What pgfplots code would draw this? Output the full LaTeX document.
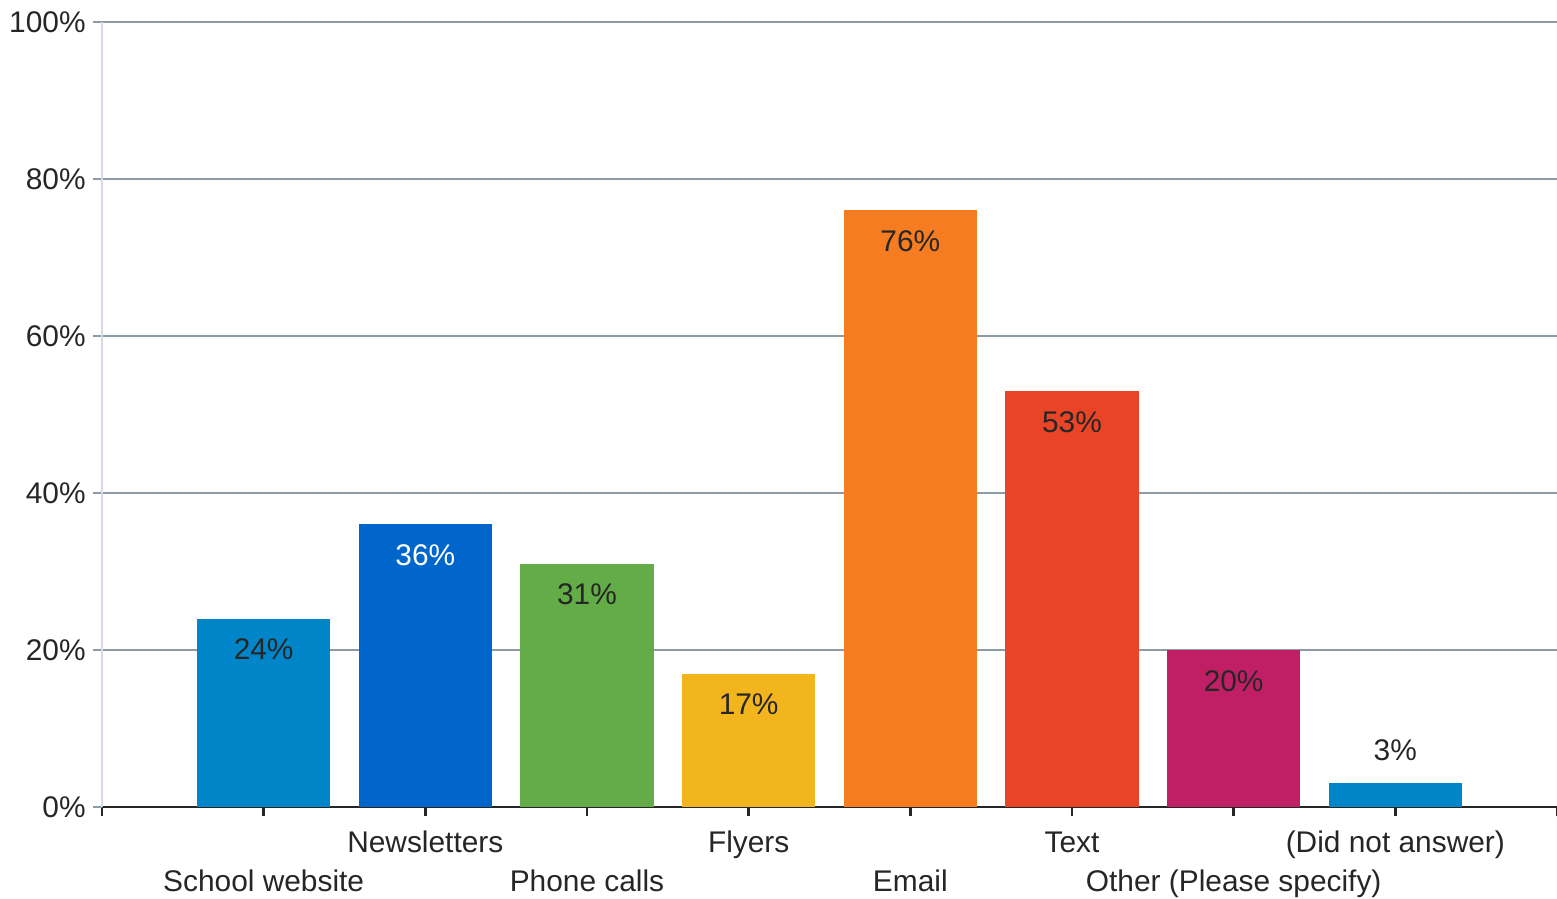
\documentclass[border=0pt]{standalone}
\usepackage{fontspec}
\setmainfont{Liberation Sans}
\usepackage{pgfplots}
\pgfplotsset{compat=1.18}

\definecolor{cWeb}{HTML}{0085C8}
\definecolor{cNews}{HTML}{0066CC}
\definecolor{cPhone}{HTML}{63AC47}
\definecolor{cFly}{HTML}{F3B51E}
\definecolor{cMail}{HTML}{F57C20}
\definecolor{cText}{HTML}{E94426}
\definecolor{cOther}{HTML}{C01F65}
\definecolor{gridc}{HTML}{8C9BA6}
\definecolor{yaxisc}{HTML}{D6DAE6}
\definecolor{txt}{HTML}{262626}

\pgfplotsset{
  inbar/.style={nodes near coords={\pgfmathprintnumber{\pgfplotspointmeta}\%},
    every node near coord/.append style={anchor=north, yshift=-0.8mm, text=#1,
      font=\fontsize{8.5}{11}\selectfont}},
}

\begin{document}
\begin{tikzpicture}
\begin{axis}[
  scale only axis,
  width=145.5mm, height=78.5mm,
  xmin=0, xmax=9, ymin=0, ymax=100,
  axis lines*=left,
  ybar, bar width=13.3mm, bar shift=0pt,
  xtick={0,...,9},
  xticklabels={,
    {\strut\\\strut School website},
    {\strut Newsletters\\\strut},
    {\strut\\\strut Phone calls},
    {\strut Flyers\\\strut},
    {\strut\\\strut Email},
    {\strut Text\\\strut},
    {\strut\\\strut Other (Please specify)},
    {\strut (Did not answer)\\\strut},
  },
  ytick={0,20,...,100},
  yticklabel={\pgfmathprintnumber{\tick}\%},
  /pgf/number format/assume math mode=true,
  ymajorgrids,
  grid style={gridc, line width=0.2mm},
  tick align=outside,
  major tick length=0.9mm,
  x axis line style={txt, line width=0.25mm},
  y axis line style={yaxisc, line width=0.2mm},
  xtick style={txt, line width=0.25mm},
  ytick style={gridc, line width=0.2mm},
  every tick label/.append style={font=\fontsize{8.5}{11}\selectfont, text=txt},
  x tick label style={align=center, yshift=0.3mm},
  y tick label style={xshift=0.5mm},
  clip=false,
]
\addplot[fill=cWeb, draw=none, inbar=txt] coordinates {(1,24)};
\addplot[fill=cNews, draw=none, inbar=white] coordinates {(2,36)};
\addplot[fill=cPhone, draw=none, inbar=txt] coordinates {(3,31)};
\addplot[fill=cFly, draw=none, inbar=txt] coordinates {(4,17)};
\addplot[fill=cMail, draw=none, inbar=txt] coordinates {(5,76)};
\addplot[fill=cText, draw=none, inbar=txt] coordinates {(6,53)};
\addplot[fill=cOther, draw=none, inbar=txt] coordinates {(7,20)};
\addplot[fill=cWeb, draw=none,
  nodes near coords={\pgfmathprintnumber{\pgfplotspointmeta}\%},
  every node near coord/.append style={anchor=south, yshift=1.0mm, text=txt,
    font=\fontsize{8.5}{11}\selectfont}] coordinates {(8,3)};
\end{axis}
\pgfresetboundingbox
\path[use as bounding box] ([xshift=-10.2mm,yshift=-9.1mm]current axis.south west)
  rectangle ([yshift=2.2mm]current axis.north east);
\end{tikzpicture}
\end{document}
